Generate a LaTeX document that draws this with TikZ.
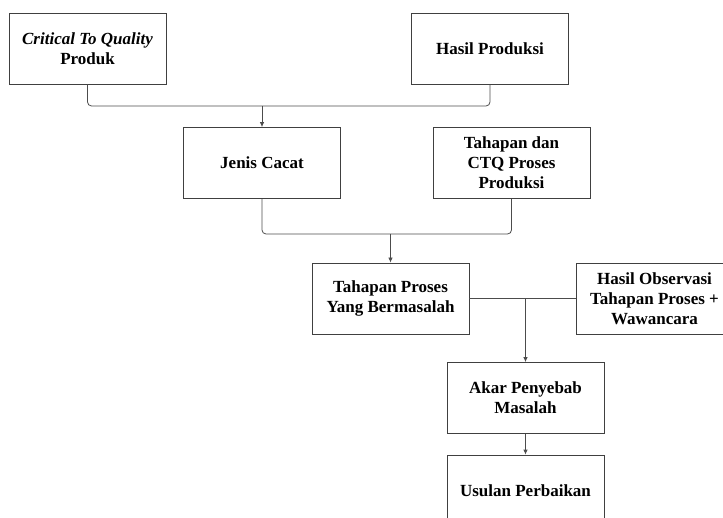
\documentclass[tikz,border=0pt]{standalone}
\usepackage{fontspec}
\setmainfont{Liberation Serif}
\usepackage{tikz}
\usetikzlibrary{arrows.meta}

\begin{document}
\begin{tikzpicture}[x=1pt,y=-1pt,
		box/.style={draw=black!75, line width=0.8pt, fill=white,
			minimum width=157pt, minimum height=71pt, inner sep=2pt,
			align=center, font=\fontsize{17}{20}\selectfont\bfseries},
		link/.style={draw=black!70, line width=0.8pt, rounded corners=4pt},
		tip/.style={-{Latex[length=5pt,width=4.5pt]}}]
				\useasboundingbox (0,0) rectangle (723,518);
				
				% top row
				\node[box] (ctq) at (87.5,48.5){\textit{Critical To Quality}\\Produk};
				\node[box] (hasil) at (490,48.5){Hasil Produksi};
				
				% second row
				\node[box] (jenis) at (262,163){Jenis Cacat};
				\node[box] (tahap) at (511.5,163){Tahapan dan\\CTQ Proses\\Produksi};
				
				% third row
				\node[box] (masalah) at (390.5,298.5){Tahapan Proses\\Yang Bermasalah};
				\node[box] (obs) at (654.5,298.5){Hasil Observasi\\Tahapan Proses +\\Wawancara};
				
				% bottom column
				\node[box] (akar) at (525.5,398){Akar Penyebab\\Masalah};
				\node[box] (usulan) at (525.5,490.5){Usulan Perbaikan};
				
				\coordinate (j1) at (262,106);
				\coordinate (j2) at (390.5,234);
				\coordinate (j3) at (525.5,298.5);
				
				\draw[link] (ctq.south) |- (j1) -| (hasil.south);
				\draw[link] (jenis.south) |- (j2) -| (tahap.south);
				\draw[link] (masalah.east) -- (obs.west);
				
				\foreach \x/\y in
				{j1/jenis, j2/masalah, j3/akar, akar/usulan}{
					\draw[link,tip] (\x) -- (\y.north);
				}
			\end{tikzpicture}
\end{document}
